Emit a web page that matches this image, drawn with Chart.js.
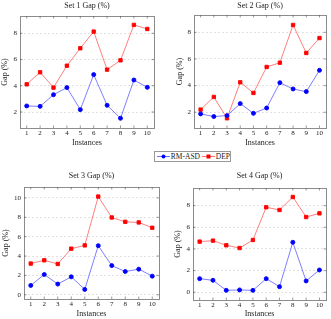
<!DOCTYPE html>
<html>
<head>
<meta charset="utf-8">
<script src="https://cdn.jsdelivr.net/npm/chart.js"></script>
<style>
  body { margin: 0; background: #fff; }
  #wrap { position: relative; width: 331px; height: 319px; overflow: hidden; }
  #wrap canvas { position: absolute; }
  #legend {
    position: absolute; left: 154px; top: 151px; width: 75px; height: 9px;
    border: 1px solid #999; background: #fff; z-index: 5;
    font: 7.5px "Liberation Serif", serif; color: #222;
    display: flex; align-items: center; white-space: nowrap;
  }
  #legend svg { margin: 0 1px 0 2px; }
</style>
</head>
<body>
<div id="wrap">
  <canvas id="graph1" width="165" height="160" style="left:0;top:0"></canvas>
  <canvas id="graph2" width="166" height="160" style="left:165px;top:0"></canvas>
  <canvas id="graph3" width="165" height="159" style="left:0;top:160px"></canvas>
  <canvas id="graph4" width="166" height="159" style="left:165px;top:160px"></canvas>
  <div id="legend">
    <svg width="13" height="7"><line x1="0" y1="3.5" x2="13" y2="3.5" stroke="#7070ff" stroke-width="1"/><circle cx="6.5" cy="3.5" r="2" fill="#0000ff"/></svg>RM-ASD
    <svg width="13" height="7" style="margin-left:2px"><line x1="0" y1="3.5" x2="13" y2="3.5" stroke="#ff7070" stroke-width="1"/><rect x="4.5" y="1.5" width="4" height="4" fill="#ff0000"/></svg>DEP
  </div>
</div>
<script>
const instances = ["1","2","3","4","5","6","7","8","9","10"];

const set1_rmasd = [2.46, 2.43, 3.32, 3.86, 2.18, 4.85, 2.51, 1.52, 4.44, 3.88];
const set1_dep   = [4.11, 5.03, 3.86, 5.53, 6.86, 8.13, 5.23, 5.94, 8.64, 8.33];
const set2_rmasd = [1.88, 1.68, 1.75, 2.65, 1.92, 2.32, 4.22, 3.75, 3.55, 5.15];
const set2_dep   = [2.20, 3.15, 1.55, 4.25, 3.45, 5.40, 5.72, 8.55, 6.45, 7.57];
const set3_rmasd = [0.96, 2.09, 1.10, 1.85, 0.55, 5.07, 3.01, 2.40, 2.64, 1.92];
const set3_dep   = [3.22, 3.56, 3.18, 4.76, 5.10, 10.14, 7.98, 7.53, 7.47, 6.92];
const set4_rmasd = [1.26, 1.11, 0.18, 0.22, 0.18, 1.26, 0.52, 4.62, 1.05, 2.06];
const set4_dep   = [4.68, 4.77, 4.34, 4.09, 4.83, 7.85, 7.60, 8.80, 6.95, 7.29];

const ticks1 = [2, 4, 6, 8];
const ticks2 = [2, 4, 6, 8];
const ticks3 = [0, 2, 4, 6, 8, 10];
const ticks4 = [0, 2, 4, 6, 8];

const serif = "'Liberation Serif', 'DejaVu Serif', serif";
Chart.defaults.font.family = serif;
Chart.defaults.color = "#222";

// pgfplots-like box with inward ticks
const frame = {
  id: "frame",
  afterDatasetsDraw(chart) {
    const a = chart.chartArea, ctx = chart.ctx;
    ctx.save();
    ctx.strokeStyle = "#8c8c8c";
    ctx.lineWidth = 1;
    ctx.strokeRect(Math.round(a.left) + 0.5, Math.round(a.top) + 0.5,
                   Math.round(a.right - a.left), Math.round(a.bottom - a.top));
    ctx.strokeStyle = "#555";
    ctx.lineWidth = 0.6;
    chart.scales.x.ticks.forEach((t, i) => {
      const px = chart.scales.x.getPixelForTick(i);
      ctx.beginPath();
      ctx.moveTo(px, a.bottom); ctx.lineTo(px, a.bottom - 2.5);
      ctx.moveTo(px, a.top); ctx.lineTo(px, a.top + 2.5);
      ctx.stroke();
    });
    chart.scales.y.ticks.forEach(t => {
      const py = chart.scales.y.getPixelForValue(t.value);
      ctx.beginPath();
      ctx.moveTo(a.left, py); ctx.lineTo(a.left + 2.5, py);
      ctx.moveTo(a.right, py); ctx.lineTo(a.right - 2.5, py);
      ctx.stroke();
    });
    ctx.restore();
  }
};

function gapChart(id, title, rmasd, dep, yTicks, yMin, yMax, g) {
  // g: canvas-relative geometry of the plot box and texts
  const padLeft = g.yTitleX - 4.8;
  return new Chart(id, {
    type: "line",
    data: {
      labels: instances,
      datasets: [{
        label: "RM-ASD",
        data: rmasd,
        borderColor: "#7070ff",
        backgroundColor: "#0000ff",
        pointBackgroundColor: "#0000ff",
        pointBorderColor: "#0000ff",
        pointStyle: "circle",
        pointRadius: 2,
        borderWidth: 0.9,
        fill: false
      }, {
        label: "DEP",
        data: dep,
        borderColor: "#ff7070",
        backgroundColor: "#ff0000",
        pointBackgroundColor: "#ff0000",
        pointBorderColor: "#ff0000",
        pointStyle: "rect",
        pointRadius: 2.4,
        borderWidth: 0.9,
        fill: false
      }]
    },
    options: {
      responsive: false,
      animation: false,
      layout: { padding: { left: padLeft, right: g.w - g.r, top: 0, bottom: 0 } },
      plugins: {
        legend: { display: false },
        tooltip: { enabled: false },
        title: {
          display: true,
          text: title,
          fullSize: false,
          font: { size: 8, weight: "normal", family: serif, lineHeight: 1.2 },
          padding: { top: g.titleY - 4.8, bottom: g.t - g.titleY - 4.8 }
        }
      },
      scales: {
        x: {
          type: "category",
          offset: true,
          grid: { display: false, drawTicks: false },
          border: { display: false },
          ticks: { font: { size: 7 }, padding: 1.2, maxRotation: 0, autoSkip: false },
          title: {
            display: true, text: "Instances",
            font: { size: 8, lineHeight: 1.2 },
            padding: { top: 0, bottom: g.h - g.xTitleY - 4.8 }
          },
          afterFit(s) { s.height = g.h - g.b; }
        },
        y: {
          min: yMin,
          max: yMax,
          grid: { color: "#d4d4d4", lineWidth: 0.7, drawTicks: false },
          border: { display: false, dash: [2, 2] },
          ticks: { font: { size: 7 }, padding: 3 },
          afterBuildTicks(s) { s.ticks = yTicks.map(v => ({ value: v })); },
          title: {
            display: true, text: "Gap (%)",
            font: { size: 8, lineHeight: 1.2 },
            padding: { top: 0, bottom: 0 }
          },
          afterFit(s) { s.width = g.l - padLeft; }
        }
      }
    },
    plugins: [frame]
  });
}

var graph1 = gapChart("graph1", "Set 1 Gap (%)", set1_rmasd, set1_dep, ticks1, 0.78, 9.32,
  { w: 165, h: 160, l: 20, t: 16, r: 154, b: 128, titleY: 6, yTitleX: 5, xTitleY: 143 });
var graph2 = gapChart("graph2", "Set 2 Gap (%)", set2_rmasd, set2_dep, ticks2, 0.82, 9.3,
  { w: 166, h: 160, l: 29, t: 15, r: 163, b: 128, titleY: 5.5, yTitleX: 15, xTitleY: 142.7 });
var graph3 = gapChart("graph3", "Set 3 Gap (%)", set3_rmasd, set3_dep, ticks3, -0.44, 11.13,
  { w: 165, h: 159, l: 24, t: 27, r: 159, b: 139, titleY: 16, yTitleX: 6, xTitleY: 153.7 });
var graph4 = gapChart("graph4", "Set 4 Gap (%)", set4_rmasd, set4_dep, ticks4, -0.71, 9.63,
  { w: 166, h: 159, l: 28, t: 28, r: 163, b: 140, titleY: 16, yTitleX: 13.3, xTitleY: 154.3 });
</script>
</body>
</html>
